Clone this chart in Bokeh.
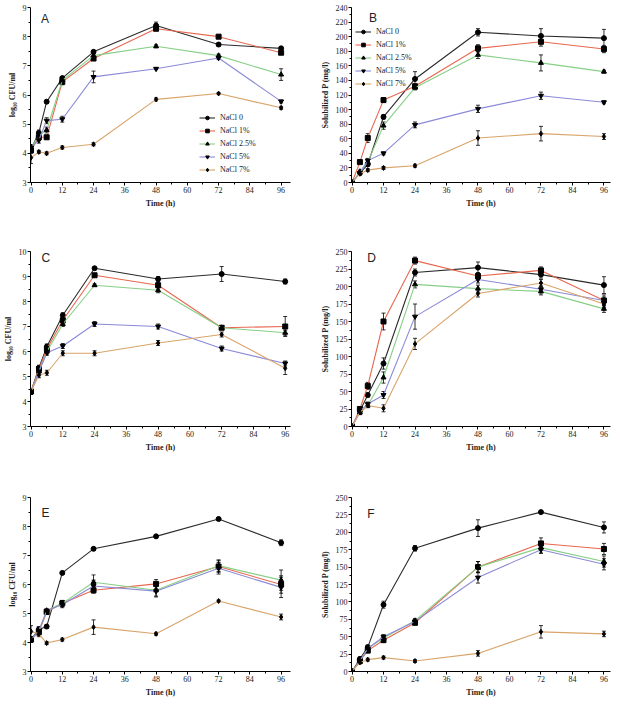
from bokeh.plotting import figure
from bokeh.layouts import gridplot
from bokeh.models import (Range1d, FixedTicker, Whisker, ColumnDataSource,
                          Legend, LegendItem, Label, TeeHead)
from bokeh.embed import file_html
from bokeh.resources import INLINE

# ---------------- data ----------------
time_h = [0, 3, 6, 12, 24, 48, 72, 96]
series_names = ["NaCl 0", "NaCl 1%", "NaCl 2.5%", "NaCl 5%", "NaCl 7%"]
x_ticks = [0, 12, 24, 36, 48, 60, 72, 84, 96]

# Panel A  (log10 CFU/ml)
A_nacl0 = [4.15, 4.70, 5.77, 6.58, 7.48, 8.38, 7.73, 7.60]
A_nacl1 = [4.10, 4.55, 4.55, 6.45, 7.25, 8.27, 8.00, 7.45]
A_nacl25 = [4.20, 4.60, 4.80, 6.50, 7.35, 7.67, 7.35, 6.70]
A_nacl5 = [4.20, 4.45, 5.12, 5.17, 6.62, 6.90, 7.27, 5.78]
A_nacl7 = [3.85, 4.05, 4.00, 4.20, 4.31, 5.85, 6.05, 5.56]
A_err0 = [0.10, 0.10, 0.05, 0.05, 0.05, 0.12, 0.05, 0.05]
A_err1 = [0.10, 0.10, 0.05, 0.10, 0.05, 0.05, 0.05, 0.05]
A_err25 = [0.10, 0.15, 0.10, 0.05, 0.05, 0.05, 0.05, 0.20]
A_err5 = [0.10, 0.10, 0.10, 0.10, 0.20, 0.03, 0.05, 0.05]
A_err7 = [0.20, 0.05, 0.05, 0.05, 0.05, 0.05, 0.03, 0.05]

# Panel B  (Solubilized P mg/l)
B_nacl0 = [0, 13, 25, 90, 142, 206, 201, 198]
B_nacl1 = [0, 28, 61, 113, 132, 184, 193, 183]
B_nacl25 = [0, 15, 28, 78, 130, 175, 164, 152]
B_nacl5 = [0, 13, 30, 40, 79, 101, 119, 110]
B_nacl7 = [0, 12, 17, 20, 23, 61, 67, 63]
B_err0 = [0, 2, 3, 3, 10, 5, 10, 12]
B_err1 = [0, 3, 6, 3, 3, 5, 6, 5]
B_err25 = [0, 2, 3, 5, 3, 5, 11, 2]
B_err5 = [0, 2, 3, 2, 4, 5, 5, 2]
B_err7 = [0, 2, 2, 2, 2, 10, 10, 4]

# Panel C  (log10 CFU/ml)
C_nacl0 = [4.40, 5.35, 6.20, 7.45, 9.33, 8.90, 9.10, 8.80]
C_nacl1 = [4.40, 5.30, 6.10, 7.25, 9.05, 8.65, 6.95, 7.00]
C_nacl25 = [4.40, 5.20, 6.00, 7.10, 8.65, 8.45, 6.95, 6.75]
C_nacl5 = [4.40, 5.20, 5.95, 6.22, 7.10, 7.00, 6.12, 5.52]
C_nacl7 = [4.40, 5.05, 5.15, 5.93, 5.93, 6.34, 6.68, 5.33]
C_err0 = [0.10, 0.10, 0.10, 0.10, 0.05, 0.10, 0.30, 0.10]
C_err1 = [0.10, 0.10, 0.10, 0.10, 0.05, 0.10, 0.05, 0.40]
C_err25 = [0.10, 0.10, 0.10, 0.10, 0.05, 0.10, 0.05, 0.10]
C_err5 = [0.10, 0.10, 0.10, 0.10, 0.10, 0.10, 0.10, 0.10]
C_err7 = [0.10, 0.10, 0.10, 0.10, 0.10, 0.10, 0.10, 0.25]

# Panel D  (Solubilized P mg/l)
D_nacl0 = [0, 22, 45, 90, 220, 227, 217, 202]
D_nacl1 = [0, 25, 58, 150, 237, 215, 223, 180]
D_nacl25 = [0, 20, 30, 70, 203, 197, 193, 168]
D_nacl5 = [0, 22, 32, 45, 157, 210, 196, 180]
D_nacl7 = [0, 20, 30, 26, 118, 190, 205, 175]
D_err0 = [0, 3, 3, 8, 5, 8, 5, 12]
D_err1 = [0, 3, 5, 12, 5, 5, 5, 8]
D_err25 = [0, 3, 3, 8, 5, 5, 5, 5]
D_err5 = [0, 3, 3, 5, 18, 5, 5, 5]
D_err7 = [0, 3, 3, 5, 8, 5, 5, 5]

# Panel E  (log10 CFU/ml)
E_nacl0 = [4.10, 4.45, 4.55, 6.40, 7.23, 7.66, 8.26, 7.44]
E_nacl1 = [4.10, 4.35, 5.05, 5.35, 5.80, 6.02, 6.62, 6.00]
E_nacl25 = [4.10, 4.40, 5.10, 5.35, 6.08, 5.80, 6.65, 6.15]
E_nacl5 = [4.10, 4.40, 5.10, 5.30, 5.95, 5.77, 6.56, 5.90]
E_nacl7 = [4.38, 4.30, 3.98, 4.10, 4.53, 4.30, 5.43, 4.88]
E_err0 = [0.10, 0.10, 0.05, 0.05, 0.05, 0.05, 0.03, 0.10]
E_err1 = [0.10, 0.10, 0.05, 0.10, 0.10, 0.15, 0.20, 0.30]
E_err25 = [0.10, 0.10, 0.05, 0.10, 0.25, 0.20, 0.20, 0.35]
E_err5 = [0.10, 0.10, 0.05, 0.10, 0.20, 0.20, 0.20, 0.35]
E_err7 = [0.20, 0.10, 0.05, 0.05, 0.25, 0.05, 0.03, 0.10]

# Panel F  (Solubilized P mg/l)
F_nacl0 = [0, 18, 35, 96, 177, 206, 229, 207]
F_nacl1 = [0, 15, 30, 45, 70, 150, 184, 176]
F_nacl25 = [0, 15, 33, 48, 73, 150, 178, 158]
F_nacl5 = [0, 15, 33, 50, 72, 135, 175, 154]
F_nacl7 = [0, 13, 17, 20, 15, 26, 57, 54]
F_err0 = [0, 3, 3, 5, 4, 12, 2, 8]
F_err1 = [0, 3, 3, 3, 3, 8, 8, 8]
F_err25 = [0, 3, 3, 3, 3, 8, 8, 8]
F_err5 = [0, 3, 3, 3, 3, 8, 5, 8]
F_err7 = [0, 2, 2, 2, 2, 4, 9, 4]

# ---------------- styling ----------------
line_colors = ["#2b2b2b", "#e8674f", "#86cf86", "#8a8ad8", "#d9a46a"]
markers = ["circle", "square", "triangle", "inverted_triangle", "diamond"]
SERIF = "Liberation Serif"
CFU_LABEL = "log\u2081\u2080 CFU/ml"
P_LABEL = "Solubilized P (mg/l)"


def panel(letter, vals, errs, ylab, y0, y1, yticks, yminor, w, h,
          bl, br, bt, bb, xr, letter_xy, legend_loc=None):
    p = figure(width=w, height=h, output_backend="svg", toolbar_location=None,
               x_range=Range1d(xr[0], xr[1]), y_range=Range1d(y0, y1),
               min_border_left=bl, min_border_right=br,
               min_border_top=bt, min_border_bottom=bb)
    p.outline_line_color = None
    p.grid.visible = False
    p.background_fill_color = "white"
    p.border_fill_color = "white"

    x_minor = [t + 6 for t in x_ticks[:-1]]
    p.xaxis.ticker = FixedTicker(ticks=x_ticks, minor_ticks=x_minor)
    p.yaxis.ticker = FixedTicker(ticks=yticks, minor_ticks=yminor)
    for ax in (p.xaxis, p.yaxis):
        ax.axis_line_color = "black"
        ax.axis_line_width = 1
        ax.major_tick_line_color = "black"
        ax.minor_tick_line_color = "black"
        ax.major_tick_out = 3
        ax.major_tick_in = 0
        ax.minor_tick_out = 2
        ax.minor_tick_in = 0
        ax.major_label_text_font = SERIF
        ax.major_label_text_font_size = "8px"
        ax.major_label_text_color = "#222222"
        ax.major_label_standoff = 1
        ax.axis_label_text_font = SERIF
        ax.axis_label_text_font_size = "8px"
        ax.axis_label_text_font_style = "bold"
        ax.axis_label_text_color = "#222222"
        ax.axis_label_standoff = 3
    p.xaxis.axis_label = "Time (h)"
    p.yaxis.axis_label = ylab

    items = []
    for i, name in enumerate(series_names):
        v = vals[i]
        e = errs[i]
        src = ColumnDataSource(dict(x=time_h, y=v,
                                    lo=[a - b for a, b in zip(v, e)],
                                    hi=[a + b for a, b in zip(v, e)]))
        ln = p.line("x", "y", source=src, color=line_colors[i], line_width=1.1)
        wk = Whisker(source=src, base="x", lower="lo", upper="hi",
                     line_color="black", line_width=0.8,
                     upper_head=TeeHead(size=4, line_color="black", line_width=0.8),
                     lower_head=TeeHead(size=4, line_color="black", line_width=0.8))
        p.add_layout(wk)
        sc = p.scatter("x", "y", source=src, marker=markers[i], size=5,
                       fill_color="black", line_color="black")
        items.append(LegendItem(label=name, renderers=[ln, sc]))

    if legend_loc is not None:
        lg = Legend(items=items, location=legend_loc)
        lg.label_text_font = SERIF
        lg.label_text_font_size = "8px"
        lg.label_text_color = "#222222"
        lg.glyph_width = 16
        lg.glyph_height = 9
        lg.label_height = 9
        lg.label_standoff = 5
        lg.spacing = 4
        lg.padding = 2
        lg.margin = 0
        lg.border_line_alpha = 0
        lg.background_fill_alpha = 0
        p.add_layout(lg)

    p.add_layout(Label(x=letter_xy[0], y=letter_xy[1], text=letter,
                       text_font="Liberation Sans", text_font_size="12px",
                       text_baseline="middle", text_align="left",
                       text_color="#222222"))
    return p


cfu_ticks = list(range(3, 10))
cfu_minor = [t + 0.5 for t in range(3, 9)]
cfu_ticks_c = list(range(3, 11))
cfu_minor_c = [t + 0.5 for t in range(3, 10)]
pb_ticks = list(range(0, 241, 20))
pb_minor = [t + 10 for t in range(0, 240, 20)]
pd_ticks = list(range(0, 251, 25))
pd_minor = [t + 12.5 for t in range(0, 250, 25)]

W1, W2 = 311, 308
H1, H2, H3 = 228, 246, 229
XR_A = (-0.2, 99.6)
XR_C = (-0.2, 98.0)
XR_E = (-0.2, 99.6)
XR2 = (-0.2, 98.5)

pA = panel("A", [A_nacl0, A_nacl1, A_nacl25, A_nacl5, A_nacl7],
           [A_err0, A_err1, A_err25, A_err5, A_err7],
           CFU_LABEL, 3, 9, cfu_ticks, cfu_minor, W1, H1, 30, 21, 6, 46,
           XR_A, (3.8, 8.62), legend_loc=(167, 6))
pB = panel("B", [B_nacl0, B_nacl1, B_nacl25, B_nacl5, B_nacl7],
           [B_err0, B_err1, B_err25, B_err5, B_err7],
           P_LABEL, 0, 240, pb_ticks, pb_minor, W2, H1, 40, 9, 7, 46,
           XR2, (6.5, 226), legend_loc=(2, 92))
pC = panel("C", [C_nacl0, C_nacl1, C_nacl25, C_nacl5, C_nacl7],
           [C_err0, C_err1, C_err25, C_err5, C_err7],
           CFU_LABEL, 3, 10, cfu_ticks_c, cfu_minor_c, W1, H2, 30, 21, 23, 48,
           XR_C, (4.0, 9.76))
pD = panel("D", [D_nacl0, D_nacl1, D_nacl25, D_nacl5, D_nacl7],
           [D_err0, D_err1, D_err25, D_err5, D_err7],
           P_LABEL, 0, 250, pd_ticks, pd_minor, W2, H2, 40, 9, 23, 48,
           XR2, (5.8, 241))
pE = panel("E", [E_nacl0, E_nacl1, E_nacl25, E_nacl5, E_nacl7],
           [E_err0, E_err1, E_err25, E_err5, E_err7],
           CFU_LABEL, 3, 9, cfu_ticks, cfu_minor, W1, H3, 30, 21, 23, 32,
           XR_E, (4.0, 8.45))
pF = panel("F", [F_nacl0, F_nacl1, F_nacl25, F_nacl5, F_nacl7],
           [F_err0, F_err1, F_err25, F_err5, F_err7],
           P_LABEL, 0, 250, pd_ticks, pd_minor, W2, H3, 40, 9, 23, 32,
           XR2, (5.8, 227))

grid = gridplot([[pA, pB], [pC, pD], [pE, pF]], toolbar_location=None)

open("out.html", "w").write(file_html(grid, INLINE))
